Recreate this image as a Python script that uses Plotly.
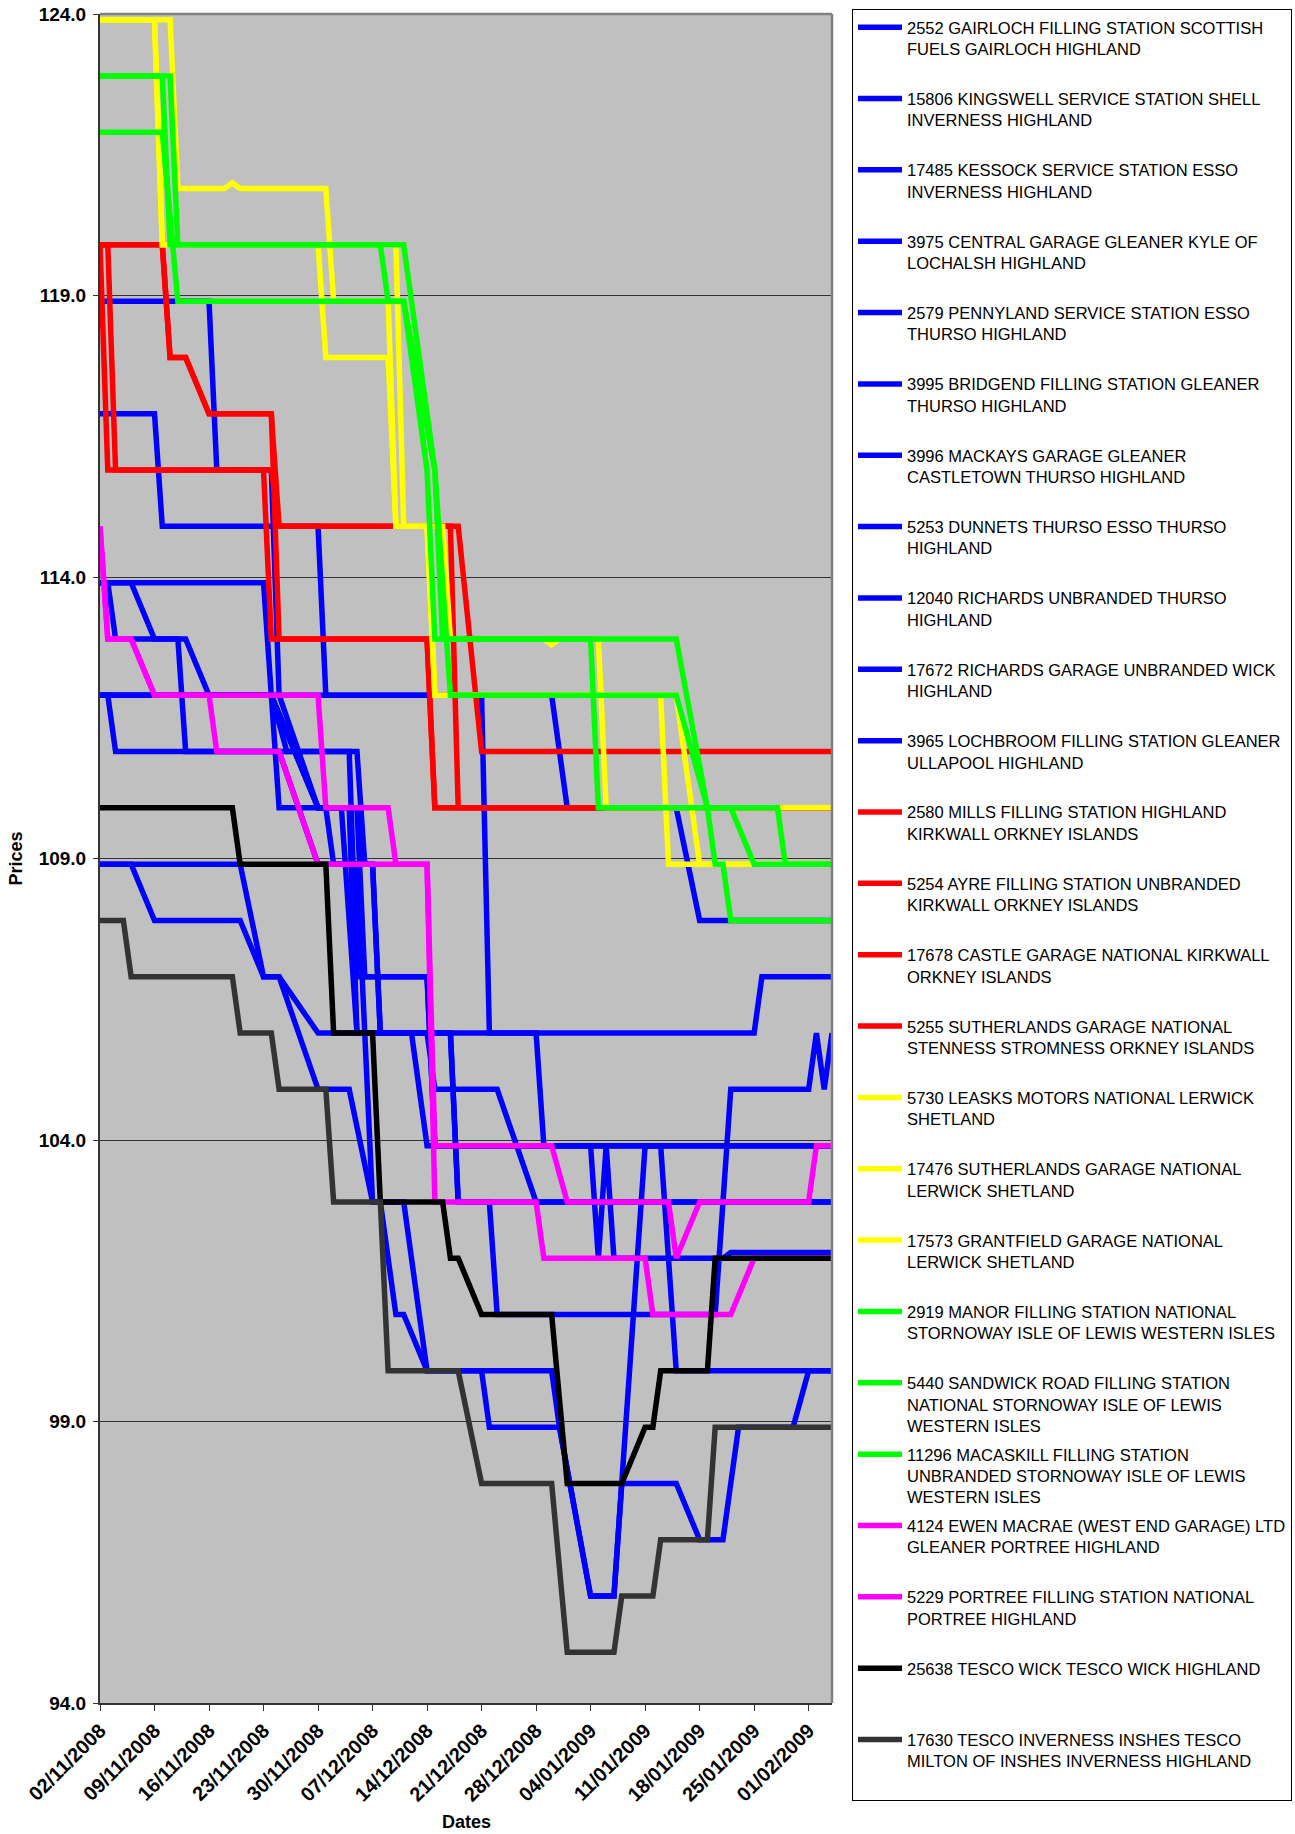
import plotly.graph_objects as go

# ---------------- axis ticks ----------------
tick_dates = ["2008-11-02", "2008-11-09", "2008-11-16", "2008-11-23", "2008-11-30",
              "2008-12-07", "2008-12-14", "2008-12-21", "2008-12-28", "2009-01-04",
              "2009-01-11", "2009-01-18", "2009-01-25", "2009-02-01"]
tick_labels = ["02/11/2008", "09/11/2008", "16/11/2008", "23/11/2008", "30/11/2008",
               "07/12/2008", "14/12/2008", "21/12/2008", "28/12/2008", "04/01/2009",
               "11/01/2009", "18/01/2009", "25/01/2009", "01/02/2009"]
price_ticks = [94, 99, 104, 109, 114, 119, 124]
price_tick_labels = ["94.0", "99.0", "104.0", "109.0", "114.0", "119.0", "124.0"]

# ---------------- series (dates of price changes, prices in pence) ----------------
s2552_dates = ["2008-11-02", "2008-11-16", "2008-11-17", "2008-11-24", "2008-11-25", "2008-11-30", "2008-12-05",
               "2008-12-06", "2008-12-14", "2008-12-15", "2009-01-04", "2009-01-05", "2009-01-06", "2009-01-07",
               "2009-01-21", "2009-01-22", "2009-02-04"]
s2552_prices = [118.9, 118.9, 115.9, 115.9, 111.9, 109.9, 109.9, 106.9, 106.9, 103.9, 103.9, 101.9, 103.9, 101.9,
                101.9, 102.0, 102.0]

s15806_dates = ["2008-11-02", "2008-11-09", "2008-11-10", "2008-11-30", "2008-12-01", "2008-12-30", "2009-01-01",
                "2009-01-15", "2009-01-18", "2009-02-04"]
s15806_prices = [116.9, 116.9, 114.9, 114.9, 111.9, 111.9, 109.9, 109.9, 107.9, 107.9]

s17485_dates = ["2008-11-02", "2008-12-21", "2008-12-22", "2009-01-25", "2009-01-26", "2009-02-04"]
s17485_prices = [111.9, 111.9, 105.9, 105.9, 106.9, 106.9]

s3975_dates = ["2008-11-02", "2008-11-23", "2008-11-25", "2008-12-01", "2008-12-02", "2008-12-07", "2008-12-08",
               "2008-12-28", "2008-12-29", "2009-02-04"]
s3975_prices = [113.9, 113.9, 109.9, 109.9, 108.9, 108.9, 105.9, 105.9, 103.9, 103.9]

s2579_dates = ["2008-11-02", "2008-11-03", "2008-11-04", "2008-11-12", "2008-11-13", "2008-12-05", "2008-12-06",
               "2008-12-07", "2008-12-08", "2008-12-14", "2008-12-15", "2008-12-23", "2008-12-28", "2009-02-04"]
s2579_prices = [113.9, 113.9, 112.9, 112.9, 110.9, 110.9, 108.9, 108.9, 105.9, 105.9, 104.9, 104.9, 102.9, 102.9]

s3995_dates = ["2008-11-02", "2008-11-06", "2008-11-09", "2008-11-13", "2008-11-16", "2008-11-24", "2008-11-30",
               "2008-12-04", "2008-12-05", "2008-12-12", "2008-12-14", "2009-02-04"]
s3995_prices = [113.9, 113.9, 112.9, 112.9, 111.9, 111.9, 109.9, 109.9, 105.9, 105.9, 103.9, 103.9]

s3996_dates = ["2008-11-02", "2008-11-03", "2008-11-04", "2008-11-25", "2008-11-30", "2008-12-05", "2008-12-07",
               "2008-12-11", "2008-12-14", "2008-12-21", "2008-12-22", "2008-12-31", "2009-01-04", "2009-01-07",
               "2009-01-11", "2009-01-13", "2009-01-15", "2009-02-04"]
s3996_prices = [111.9, 111.9, 110.9, 110.9, 108.9, 108.9, 102.9, 102.9, 99.9, 99.9, 98.9, 98.9, 95.9, 95.9,
                103.9, 103.9, 99.9, 99.9]

s5253_dates = ["2008-11-02", "2008-11-24", "2008-11-26", "2008-12-04", "2008-12-05", "2008-12-14", "2008-12-15",
               "2009-02-04"]
s5253_prices = [111.9, 111.9, 110.9, 110.9, 106.9, 106.9, 103.9, 103.9]

s12040_dates = ["2008-11-02", "2008-11-24", "2008-11-30", "2008-12-03", "2008-12-05", "2008-12-17", "2008-12-18",
                "2009-02-04"]
s12040_prices = [111.9, 111.9, 109.9, 109.9, 105.9, 105.9, 102.9, 102.9]

s17672_dates = ["2008-11-02", "2008-11-06", "2008-11-09", "2008-11-20", "2008-11-23", "2008-11-25", "2008-11-30",
                "2008-12-17", "2008-12-18", "2008-12-22", "2008-12-23", "2009-01-20", "2009-01-22", "2009-02-01",
                "2009-02-02", "2009-02-03", "2009-02-04"]
s17672_prices = [108.9, 108.9, 107.9, 107.9, 106.9, 106.9, 105.9, 105.9, 102.9, 102.9, 100.9, 100.9, 104.9, 104.9,
                 105.9, 104.9, 105.9]

s3965_dates = ["2008-11-02", "2008-11-20", "2008-11-23", "2008-11-25", "2008-11-30", "2008-12-04", "2008-12-07",
               "2008-12-08", "2008-12-10", "2008-12-11", "2008-12-14", "2008-12-30", "2008-12-31", "2009-01-04",
               "2009-01-07", "2009-01-08", "2009-01-15", "2009-01-18", "2009-01-21", "2009-01-23", "2009-01-30",
               "2009-02-01", "2009-02-04"]
s3965_prices = [108.9, 108.9, 106.9, 106.9, 104.9, 104.9, 102.9, 102.9, 100.9, 100.9, 99.9, 99.9, 98.9, 95.9,
                95.9, 97.9, 97.9, 96.9, 96.9, 98.9, 98.9, 99.9, 99.9]

s2580_dates = ["2008-11-02", "2008-11-10", "2008-11-11", "2008-11-13", "2008-11-16", "2008-11-24", "2008-11-25",
               "2008-12-18", "2008-12-21", "2009-02-04"]
s2580_prices = [119.9, 119.9, 117.9, 117.9, 116.9, 116.9, 114.9, 114.9, 110.9, 110.9]

s5254_dates = ["2008-11-02", "2008-11-03", "2008-11-24", "2008-11-25", "2008-12-17", "2008-12-18", "2009-02-04"]
s5254_prices = [119.9, 115.9, 115.9, 114.9, 114.9, 109.9, 109.9]

s17678_dates = ["2008-11-02", "2008-11-03", "2008-11-04", "2008-11-23", "2008-11-24", "2008-12-14", "2008-12-15",
                "2009-02-04"]
s17678_prices = [119.9, 119.9, 115.9, 115.9, 112.9, 112.9, 109.9, 109.9]

s5255_dates = ["2008-11-02", "2008-11-10", "2008-11-11", "2008-11-13", "2008-11-16", "2008-11-24", "2008-11-25",
               "2008-12-14", "2008-12-15", "2009-02-04"]
s5255_prices = [119.9, 119.9, 117.9, 117.9, 116.9, 116.9, 112.9, 112.9, 109.9, 109.9]

s5730_dates = ["2008-11-02", "2008-11-09", "2008-11-10", "2008-12-10", "2008-12-11", "2008-12-16", "2008-12-17",
               "2008-12-29", "2008-12-30", "2008-12-31", "2009-01-05", "2009-01-06", "2009-02-04"]
s5730_prices = [123.9, 123.9, 119.9, 119.9, 114.9, 114.9, 112.9, 112.9, 112.8, 112.9, 112.9, 109.9, 109.9]

s17476_dates = ["2008-11-02", "2008-11-11", "2008-11-12", "2008-11-18", "2008-11-19", "2008-11-20", "2008-12-01",
                "2008-12-02", "2008-12-09", "2008-12-10", "2008-12-14", "2008-12-15", "2009-01-13", "2009-01-14",
                "2009-02-04"]
s17476_prices = [123.9, 123.9, 120.9, 120.9, 121.0, 120.9, 120.9, 118.9, 118.9, 114.9, 114.9, 111.9, 111.9, 108.9,
                 108.9]

s17573_dates = ["2008-11-02", "2008-11-09", "2008-11-10", "2008-11-30", "2008-12-01", "2008-12-09", "2008-12-10",
                "2008-12-14", "2008-12-15", "2009-01-15", "2009-01-17", "2009-01-18", "2009-02-04"]
s17573_prices = [123.9, 123.9, 119.9, 119.9, 117.9, 117.9, 114.9, 114.9, 111.9, 111.9, 109.9, 108.9, 108.9]

s2919_dates = ["2008-11-02", "2008-11-10", "2008-11-11", "2008-12-08", "2008-12-09", "2008-12-11", "2008-12-14",
               "2008-12-15", "2009-01-04", "2009-01-05", "2009-01-28", "2009-01-29", "2009-02-04"]
s2919_prices = [122.9, 122.9, 119.9, 119.9, 118.9, 118.9, 115.9, 112.9, 112.9, 109.9, 109.9, 108.9, 108.9]

s5440_dates = ["2008-11-02", "2008-11-11", "2008-11-12", "2008-12-11", "2008-12-15", "2008-12-16", "2009-01-15",
               "2009-01-19", "2009-01-20", "2009-01-21", "2009-01-22", "2009-02-04"]
s5440_prices = [122.9, 122.9, 119.9, 119.9, 115.9, 112.9, 112.9, 109.9, 108.9, 108.9, 107.9, 107.9]

s11296_dates = ["2008-11-02", "2008-11-10", "2008-11-12", "2008-12-11", "2008-12-15", "2008-12-17", "2009-01-15",
                "2009-01-19", "2009-01-22", "2009-01-25", "2009-02-04"]
s11296_prices = [121.9, 121.9, 118.9, 118.9, 115.9, 111.9, 111.9, 109.9, 109.9, 108.9, 108.9]

s4124_dates = ["2008-11-02", "2008-11-03", "2008-11-06", "2008-11-09", "2008-11-30", "2008-12-01", "2008-12-09",
               "2008-12-10", "2008-12-14", "2008-12-15", "2008-12-30", "2009-01-01", "2009-01-14", "2009-01-15",
               "2009-01-18", "2009-02-01", "2009-02-02", "2009-02-04"]
s4124_prices = [114.9, 112.9, 112.9, 111.9, 111.9, 109.9, 109.9, 108.9, 108.9, 103.9, 103.9, 102.9, 102.9, 101.9,
                102.9, 102.9, 103.9, 103.9]

s5229_dates = ["2008-11-02", "2008-11-03", "2008-11-06", "2008-11-09", "2008-11-16", "2008-11-17", "2008-11-25",
               "2008-11-30", "2008-12-14", "2008-12-15", "2008-12-28", "2008-12-29", "2009-01-11", "2009-01-12",
               "2009-01-22", "2009-01-25", "2009-02-04"]
s5229_prices = [114.9, 112.9, 112.9, 111.9, 111.9, 110.9, 110.9, 108.9, 108.9, 102.9, 102.9, 101.9, 101.9, 100.9,
                100.9, 101.9, 101.9]

s25638_dates = ["2008-11-02", "2008-11-19", "2008-11-20", "2008-12-01", "2008-12-02", "2008-12-07", "2008-12-08",
                "2008-12-16", "2008-12-17", "2008-12-18", "2008-12-21", "2008-12-30", "2009-01-01", "2009-01-08",
                "2009-01-11", "2009-01-12", "2009-01-13", "2009-01-19", "2009-01-20", "2009-02-04"]
s25638_prices = [109.9, 109.9, 108.9, 108.9, 105.9, 105.9, 102.9, 102.9, 101.9, 101.9, 100.9, 100.9, 97.9, 97.9,
                 98.9, 98.9, 99.9, 99.9, 101.9, 101.9]

s17630_dates = ["2008-11-02", "2008-11-05", "2008-11-06", "2008-11-19", "2008-11-20", "2008-11-24", "2008-11-25",
                "2008-12-01", "2008-12-02", "2008-12-08", "2008-12-09", "2008-12-18", "2008-12-21", "2008-12-30",
                "2009-01-01", "2009-01-07", "2009-01-08", "2009-01-12", "2009-01-13", "2009-01-19", "2009-01-20",
                "2009-02-04"]
s17630_prices = [107.9, 107.9, 106.9, 106.9, 105.9, 105.9, 104.9, 104.9, 102.9, 102.9, 99.9, 99.9, 97.9, 97.9,
                 94.9, 94.9, 95.9, 95.9, 96.9, 96.9, 98.9, 98.9]

series_names = [
    "2552 GAIRLOCH FILLING STATION SCOTTISH<br>FUELS GAIRLOCH HIGHLAND",
    "15806 KINGSWELL SERVICE STATION SHELL<br>INVERNESS HIGHLAND",
    "17485 KESSOCK SERVICE STATION ESSO<br>INVERNESS HIGHLAND",
    "3975 CENTRAL GARAGE GLEANER KYLE OF<br>LOCHALSH HIGHLAND",
    "2579 PENNYLAND SERVICE STATION ESSO<br>THURSO HIGHLAND",
    "3995 BRIDGEND FILLING STATION GLEANER<br>THURSO HIGHLAND",
    "3996 MACKAYS GARAGE GLEANER<br>CASTLETOWN THURSO HIGHLAND",
    "5253 DUNNETS THURSO ESSO THURSO<br>HIGHLAND",
    "12040 RICHARDS UNBRANDED THURSO<br>HIGHLAND",
    "17672 RICHARDS GARAGE UNBRANDED WICK<br>HIGHLAND",
    "3965 LOCHBROOM FILLING STATION GLEANER<br>ULLAPOOL HIGHLAND",
    "2580 MILLS FILLING STATION HIGHLAND<br>KIRKWALL ORKNEY ISLANDS",
    "5254 AYRE FILLING STATION UNBRANDED<br>KIRKWALL ORKNEY ISLANDS",
    "17678 CASTLE GARAGE NATIONAL KIRKWALL<br>ORKNEY ISLANDS",
    "5255 SUTHERLANDS GARAGE NATIONAL<br>STENNESS STROMNESS ORKNEY ISLANDS",
    "5730 LEASKS MOTORS NATIONAL LERWICK<br>SHETLAND",
    "17476 SUTHERLANDS GARAGE NATIONAL<br>LERWICK SHETLAND",
    "17573 GRANTFIELD GARAGE NATIONAL<br>LERWICK SHETLAND",
    "2919 MANOR FILLING STATION NATIONAL<br>STORNOWAY ISLE OF LEWIS WESTERN ISLES",
    "5440 SANDWICK ROAD FILLING STATION<br>NATIONAL STORNOWAY ISLE OF LEWIS<br>WESTERN ISLES",
    "11296 MACASKILL FILLING STATION<br>UNBRANDED STORNOWAY ISLE OF LEWIS<br>WESTERN ISLES",
    "4124 EWEN MACRAE (WEST END GARAGE) LTD<br>GLEANER PORTREE HIGHLAND",
    "5229 PORTREE FILLING STATION NATIONAL<br>PORTREE HIGHLAND",
    "25638 TESCO WICK TESCO WICK HIGHLAND",
    "17630 TESCO INVERNESS INSHES TESCO<br>MILTON OF INSHES INVERNESS HIGHLAND",
]

series_dates = [s2552_dates, s15806_dates, s17485_dates, s3975_dates, s2579_dates, s3995_dates, s3996_dates,
                s5253_dates, s12040_dates, s17672_dates, s3965_dates, s2580_dates, s5254_dates, s17678_dates,
                s5255_dates, s5730_dates, s17476_dates, s17573_dates, s2919_dates, s5440_dates, s11296_dates,
                s4124_dates, s5229_dates, s25638_dates, s17630_dates]
series_prices = [s2552_prices, s15806_prices, s17485_prices, s3975_prices, s2579_prices, s3995_prices, s3996_prices,
                 s5253_prices, s12040_prices, s17672_prices, s3965_prices, s2580_prices, s5254_prices, s17678_prices,
                 s5255_prices, s5730_prices, s17476_prices, s17573_prices, s2919_prices, s5440_prices, s11296_prices,
                 s4124_prices, s5229_prices, s25638_prices, s17630_prices]

BLUE, RED, YELLOW, GREEN, MAGENTA, BLACK, GREY = "#0000FF", "#FF0000", "#FFFF00", "#00FF00", "#FF00FF", "#000000", "#333333"
series_colors = [BLUE] * 11 + [RED] * 4 + [YELLOW] * 3 + [GREEN] * 3 + [MAGENTA] * 2 + [BLACK, GREY]

FONT = "Liberation Sans, Arial, sans-serif"

fig = go.Figure()
for i, (name, xs, ys, col) in enumerate(zip(series_names, series_dates, series_prices, series_colors)):
    # pad every legend entry to three lines so that all entries are evenly spaced
    n_lines = name.count("<br>") + 1
    label = name + "<br> " * (3 - n_lines)
    fig.add_trace(go.Scatter(
        x=xs, y=ys, mode="lines", name=label, legendgroup=f"g{i:02d}",
        line=dict(color=col, width=5.5),
        hoverinfo="skip",
    ))

fig.update_layout(
    width=1295, height=1834, autosize=False,
    margin=dict(l=100, r=463, t=14, b=131),
    paper_bgcolor="white", plot_bgcolor="#C0C0C0",
    font=dict(family=FONT, color="black"),
    showlegend=True,
    legend=dict(
        xref="container", x=852 / 1295, xanchor="left",
        yref="paper", y=1.003, yanchor="top",
        bgcolor="white", bordercolor="black", borderwidth=1,
        font=dict(family=FONT, size=16.5, color="black"),
        tracegroupgap=4, itemwidth=44, valign="top",
        traceorder="grouped", maxheight=1830,
    ),
    xaxis=dict(
        type="date", range=["2008-11-02", "2009-02-04"], automargin=False,
        tickmode="array", tickvals=tick_dates, ticktext=tick_labels, tickangle=-45,
        ticks="outside", ticklen=6, tickcolor="#333333", tickwidth=1,
        tickfont=dict(family=FONT, size=20, color="black", weight="bold"),
        showgrid=False, zeroline=False,
        showline=True, linecolor="#333333", linewidth=2,
    ),
    yaxis=dict(
        range=[94, 124], automargin=False,
        tickmode="array", tickvals=price_ticks, ticktext=price_tick_labels,
        ticks="outside", ticklen=5, tickcolor="#333333", tickwidth=1, ticklabelstandoff=3,
        tickfont=dict(family=FONT, size=19, color="black", weight="bold"),
        showgrid=True, gridcolor="#333333", gridwidth=1, zeroline=False,
        showline=True, linecolor="#333333", linewidth=2,
    ),
    annotations=[
        dict(text="Prices", textangle=-90, xref="paper", yref="paper", x=-0.1148, y=0.5,
             xanchor="center", yanchor="middle", showarrow=False,
             font=dict(family=FONT, size=18, color="black", weight="bold")),
        dict(text="Dates", xref="paper", yref="paper", x=0.5, y=-0.0702,
             xanchor="center", yanchor="middle", showarrow=False,
             font=dict(family=FONT, size=18, color="black", weight="bold")),
    ],
    shapes=[
        dict(type="line", xref="paper", yref="paper", x0=0, x1=1, y0=1, y1=1,
             line=dict(color="#808080", width=2.5), layer="above"),
        dict(type="line", xref="paper", yref="paper", x0=1, x1=1, y0=0, y1=1,
             line=dict(color="#808080", width=2.5), layer="above"),
    ],
)

fig.write_html(
    "out.html",
    config={"displayModeBar": False},
    post_script="document.body.style.margin='0';document.documentElement.style.overflow='hidden';",
)
